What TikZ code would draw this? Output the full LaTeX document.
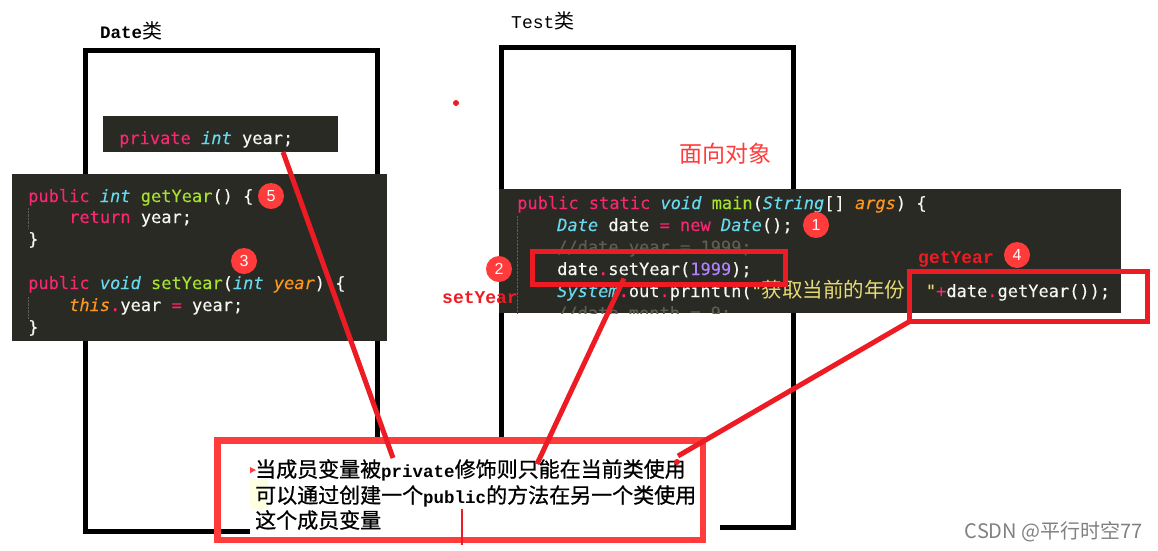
\documentclass[tikz,border=0pt]{standalone}
\usepackage{fontspec}
\setmainfont{Liberation Sans}
\newfontfamily\codefont[FakeBold=0.2]{DejaVu Sans Mono}
\newfontfamily\labelfont{Liberation Mono}
\newfontfamily\cjk{Noto Sans CJK SC}
\newfontfamily\cjknote[FakeBold=0.8]{Noto Sans CJK SC}
\usetikzlibrary{calc}
\definecolor{codebg}{HTML}{2A2A24}
\definecolor{codewhite}{HTML}{F8F8F2}
\definecolor{codepink}{HTML}{F92672}
\definecolor{codecyan}{HTML}{66D9EF}
\definecolor{codegreen}{HTML}{A6E22E}
\definecolor{codeorange}{HTML}{FD971F}
\definecolor{codepurple}{HTML}{AE81FF}
\definecolor{codeyellow}{HTML}{E6DB74}
\definecolor{codegray}{HTML}{5E5E52}
\definecolor{markred}{HTML}{ED1C24}
\definecolor{notered}{HTML}{FF3B3B}
\newcommand{\kw}[1]{\textcolor{codepink}{#1}}
\newcommand{\ty}[1]{\textcolor{codecyan}{\itshape #1}}
\newcommand{\fn}[1]{\textcolor{codegreen}{#1}}
\newcommand{\ar}[1]{\textcolor{codeorange}{\itshape #1}}
\newcommand{\nm}[1]{\textcolor{codepurple}{#1}}
\newcommand{\st}[1]{\textcolor{codeyellow}{#1}}
\newcommand{\cjkbold}[1]{{\fontsize{21}{21}\selectfont\cjknote #1}}
\newcommand{\latbold}[1]{{\fontsize{17.5}{17.5}\selectfont\labelfont\bfseries #1}}
\tikzset{
	classbox/.style={
			draw=black,
			line width=5pt,
			outer sep=0pt,
			inner sep=0pt
		},
	codebox/.style={
			fill=codebg,
			outer sep=0pt,
			inner sep=0pt
		},
	codeline/.style={
			anchor=base west,
			inner sep=0pt,
			text=codewhite,
			font=\fontsize{17}{17}\selectfont\codefont
		},
	markbox/.style={
			draw=markred,
			line width=5pt,
			outer sep=0pt,
			inner sep=0pt
		},
	markline/.style={
			draw=markred,
			line width=5pt
		},
	numdot/.style={
			circle,
			fill=notered,
			text=white,
			minimum size=26pt,
			inner sep=0pt,
			font=\fontsize{16}{16}\selectfont
		},
	classtext/.style={
			anchor=base west,
			inner sep=0pt,
			text=black
		},
	methodtext/.style={
			anchor=base west,
			inner sep=0pt,
			text=markred,
			font=\fontsize{18}{18}\selectfont\labelfont\bfseries
		},
	notetext/.style={
			anchor=base west,
			inner sep=0pt,
			text=black
		}
}

\begin{document}
\begin{tikzpicture}[x=1pt, y=-1pt]
\useasboundingbox (0,0) rectangle (1158,550);

\node[classbox, minimum width=292pt, minimum height=481pt] (datebox) at (231.5,291) {};
\node[classbox, minimum width=292pt, minimum height=480pt] (testbox) at (647.5,287.5) {};

\node[classtext] (datetitle) at (100,38) {\latbold{Date}{\fontsize{20}{20}\selectfont\cjk 类}};
\node[classtext] (testtitle) at (511,28) {{\fontsize{18}{18}\selectfont\labelfont Test}{\fontsize{20}{20}\selectfont\cjk 类}};
\node[anchor=base west, inner sep=0pt, text=notered, font=\fontsize{23}{23}\selectfont\cjk] (oop) at (679,162) {面向对象};

\fill[markred] (456,103) circle (3);

% code of class Date
\node[codebox, minimum width=235pt, minimum height=36pt] (privatecode) at (220.5,134) {};
\node[codeline] (privline) at (119,144) {\kw{private} \ty{int} year;};

\node[codebox, minimum width=375pt, minimum height=167pt] (accesscode) at (199.5,257.5) {};
\node[codeline] (getline1) at (28,202) {\kw{public} \ty{int} \fn{getYear}() \{};
\node[codeline] (getline2) at (69,223) {\kw{return} year;};
\node[codeline] (getline3) at (28,245) {\}};
\node[codeline] (setline1) at (28,289) {\kw{public} \ty{void} \fn{setYear}(\ty{int} \ar{year}) \{};
\node[codeline] (setline2) at (69,311) {\ar{this}\kw{.}year \kw{=} year;};
\node[codeline] (setline3) at (28,333) {\}};
\draw[codegray, densely dotted] (28,208) -- (28,228);
\draw[codegray, densely dotted] (28,297) -- (28,319);

% code of class Test
\node[codebox, minimum width=622pt, minimum height=124pt] (maincode) at (810,251) {};
\begin{scope}
\clip (499,189) rectangle (1121,313);
\node[codeline] (mainline1) at (517,209) {\kw{public} \kw{static} \ty{void} \fn{main}(\ty{String}[] \ar{args}) \{};
\node[codeline] (mainline2) at (557,231) {\ty{Date} date \kw{=} \kw{new} \ty{Date}();};
\node[codeline, text=codegray] (mainline3) at (557,253) {//date.year = 1999;};
\node[codeline] (mainline4) at (557,275) {date\kw{.}setYear(\nm{1999});};
\node[codeline] (mainline5) at (557,297) {\ty{System}\kw{.}out\kw{.}println(\st{"{\fontsize{20.5}{20.5}\selectfont\cjk 获取当前的年份：}"}\kw{+}date\kw{.}getYear());};
\node[codeline, text=codegray] (mainline6) at (557,319) {//date.month = 9;};
\draw[codegray, densely dotted] (517,216) -- (517,313);
\end{scope}

% pasted note
\fill[white] (250,437) rectangle (720,545);
\fill[notered] (250,467) -- (256,470) -- (250,473) -- cycle;
\fill[codewhite!60!yellow!25] (250,479) rectangle (268,510);
\node[notetext] (noteline1) at (255,477) {\cjkbold{当成员变量被}\latbold{private}\cjkbold{修饰则只能在当前类使用}};
\node[notetext] (noteline2) at (255,503) {\cjkbold{可以通过创建一个}\latbold{public}\cjkbold{的方法在另一个类使用}};
\node[notetext] (noteline3) at (255,528) {\cjkbold{这个成员变量}};
\node[draw=notered, line width=6.5pt, outer sep=0pt, inner sep=0pt, minimum width=485.5pt, minimum height=99.5pt] (notebox) at (460.25,490.25) {};

% marks
\node[markbox, minimum width=253pt, minimum height=33pt] (setbox) at (659,268) {};
\node[markbox, minimum width=238pt, minimum height=50pt] (getbox) at (1028.5,296.5) {};
\coordinate (privend) at (393,458);
\coordinate (setend) at (537,464);
\coordinate (getend) at (678,456);
\draw[markline] ([xshift=-55pt]privatecode.south east) -- (privend);
\draw[markline] ([xshift=-35pt,yshift=6pt]setbox.south) -- (setend);
\draw[markline] (getbox.south west) -- (getend);
\fill[markred] (677,462) circle (3);
\draw[markred, line width=1.2pt] (462,509) -- (462,545);

\node[methodtext] (setlabel) at (442,303) {setYear};
\node[methodtext] (getlabel) at (918,263) {getYear};

\node[numdot] (num1) at (816,225) {1};
\node[numdot] (num2) at (499,269) {2};
\node[numdot] (num3) at (244,261) {3};
\node[numdot] (num4) at (1017,255) {4};
\node[numdot] (num5) at (271,196) {5};

\node[anchor=base east, inner sep=0pt, text=black!50, font=\fontsize{20}{20}\selectfont\cjk] (mark) at (1143,538) {CSDN @平行时空77};
\end{tikzpicture}
\end{document}
